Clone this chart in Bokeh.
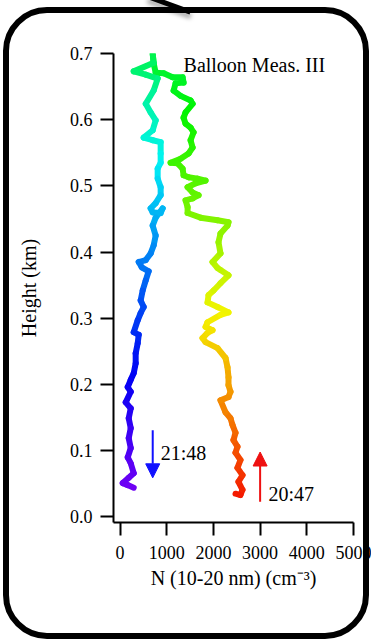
import colorsys

from bokeh.embed import file_html
from bokeh.models import (Arrow, ColumnDataSource, FixedTicker, InlineStyleSheet,
                          Label, NormalHead, PrintfTickFormatter)
from bokeh.plotting import figure
from bokeh.resources import INLINE
from bokeh.transform import linear_cmap

# Balloon ascent (launched 20:47), listed from the ground up: N(10-20 nm) in cm^-3, height in km
ascent_n = [2473, 2579, 2622, 2537, 2622, 2515, 2579, 2473, 2515, 2430, 2473, 2408,
            2366, 2259, 2152, 2323, 2366, 2323, 2323, 2302, 2259, 2088, 1832, 1767,
            1874, 1981, 1832, 1874, 2152, 2323, 2088, 1874, 1896, 2003, 2152, 2323,
            2152, 2088, 1981, 2152, 2109, 2152, 2302, 2323, 2088, 1725, 1447, 1447,
            1404, 1554, 1682, 1554, 1447, 1618, 1832, 1661, 1468, 1361, 1340, 1233,
            1083, 1297, 1468, 1554, 1511, 1575, 1511, 1404, 1361, 1404, 1554, 1511,
            1297, 1148, 1190, 1361, 1340, 1126, 934, 763, 720, 699]
ascent_h = [0.035, 0.033, 0.041, 0.053, 0.063, 0.074, 0.086, 0.097, 0.106, 0.116, 0.127, 0.139,
            0.149, 0.158, 0.176, 0.181, 0.189, 0.199, 0.211, 0.226, 0.240, 0.255, 0.264, 0.270,
            0.278, 0.282, 0.287, 0.294, 0.305, 0.309, 0.317, 0.324, 0.335, 0.342, 0.353, 0.365,
            0.373, 0.376, 0.385, 0.398, 0.415, 0.428, 0.440, 0.445, 0.448, 0.452, 0.459, 0.468,
            0.478, 0.481, 0.486, 0.490, 0.498, 0.504, 0.508, 0.511, 0.513, 0.516, 0.526, 0.534,
            0.535, 0.541, 0.549, 0.558, 0.569, 0.581, 0.588, 0.594, 0.603, 0.611, 0.624, 0.629,
            0.636, 0.644, 0.655, 0.656, 0.664, 0.664, 0.670, 0.671, 0.685, 0.700]

# Descent (ending 21:48), listed from the top down
descent_n = [699, 720, 293, 551, 806, 720, 551, 656, 763, 699, 506, 699, 870, 870, 870,
             806, 806, 870, 870, 763, 656, 699, 870, 913, 763, 699, 763, 720, 656, 551,
             400, 466, 613, 549, 485, 442, 506, 442, 378, 293, 400, 378, 335, 335, 293,
             229, 165, 229, 122, 229, 186, 229, 186, 229, 165, 229, 293, 186, 58, 165, 293]
descent_h = [0.700, 0.686, 0.673, 0.668, 0.662, 0.644, 0.624, 0.611, 0.599, 0.584, 0.573,
             0.569, 0.566, 0.549, 0.535, 0.526, 0.511, 0.498, 0.486, 0.474, 0.466, 0.460,
             0.459, 0.466, 0.452, 0.440, 0.425, 0.410, 0.398, 0.388, 0.385, 0.377, 0.371,
             0.357, 0.342, 0.327, 0.317, 0.308, 0.297, 0.279, 0.275, 0.262, 0.247, 0.232,
             0.217, 0.207, 0.196, 0.189, 0.173, 0.164, 0.149, 0.134, 0.119, 0.104, 0.090,
             0.081, 0.066, 0.059, 0.051, 0.048, 0.044]

x_ticks = [0, 1000, 2000, 3000, 4000, 5000]
y_ticks = [0.0, 0.1, 0.2, 0.3, 0.4, 0.5, 0.6, 0.7]

title_text = "Balloon Meas. III"
launch_time = "20:47"
landing_time = "21:48"

SERIF = "Liberation Serif"

# Flight phase 0..1 (ascent first half, descent second half) drives the rainbow colouring
top = max(ascent_h)
ascent_phase = [0.5 * h / top for h in ascent_h]
descent_phase = [0.5 + 0.5 * ((top - h) / top) ** 0.8 for h in descent_h]


def segments(n, h, phase):
    return dict(x0=n[:-1], x1=n[1:], y0=h[:-1], y1=h[1:],
                phase=[(a + b) / 2 for a, b in zip(phase[:-1], phase[1:])])


asc = segments(ascent_n, ascent_h, ascent_phase)
desc = segments(descent_n, descent_h, descent_phase)
source = ColumnDataSource({k: asc[k] + desc[k] for k in asc})

rainbow = []
for i in range(256):
    r, g, b = colorsys.hsv_to_rgb(0.76 * i / 255, 1.0, 0.96)
    rainbow.append("#%02x%02x%02x" % (int(r * 255), int(g * 255), int(b * 255)))

p = figure(width=371, height=643, x_range=(-140, 5000), y_range=(-0.0085, 0.7),
           output_backend="svg", toolbar_location=None,
           min_border_left=113, min_border_right=18, min_border_top=53, min_border_bottom=121)
p.outline_line_color = None
p.xgrid.visible = False
p.ygrid.visible = False
p.background_fill_color = "white"
p.border_fill_color = "white"

p.segment("x0", "y0", "x1", "y1", source=source, line_width=6, line_cap="round",
          line_color=linear_cmap("phase", rainbow, 0, 1))

for ax in (p.xaxis[0], p.yaxis[0]):
    ax.axis_line_width = 2
    ax.axis_line_color = "black"
    ax.major_tick_line_width = 2
    ax.major_tick_line_color = "black"
    ax.major_tick_in = 0
    ax.major_tick_out = 13
    ax.minor_tick_line_color = None
    ax.major_label_text_font = SERIF
    ax.major_label_text_font_size = "18px"
    ax.major_label_text_color = "black"
    ax.axis_label_text_font = SERIF
    ax.axis_label_text_font_size = "20px"
    ax.axis_label_text_font_style = "normal"
    ax.axis_label_text_color = "black"

p.xaxis.ticker = FixedTicker(ticks=x_ticks)
p.xaxis.major_label_standoff = 10
p.xaxis.axis_label = "N (10-20 nm) (cm\u207b\u00b3)"
p.xaxis.axis_label_standoff = 5

p.yaxis.ticker = FixedTicker(ticks=y_ticks)
p.yaxis.formatter = PrintfTickFormatter(format="%.1f")
p.yaxis.major_label_standoff = 8
p.yaxis.axis_label = "Height (km)"
p.yaxis.axis_label_standoff = 27

p.add_layout(Label(x=1360, y=0.682, text=title_text, text_font=SERIF,
                   text_font_size="20px", text_color="black", text_baseline="alphabetic"))

# Direction-of-travel arrows with the corresponding times
p.add_layout(Arrow(x_start=700, y_start=0.131, x_end=700, y_end=0.059,
                   line_color="#1010ff", line_width=2,
                   end=NormalHead(size=14, fill_color="#1010ff", line_color="#1010ff")))
p.add_layout(Label(x=870, y=0.0965, text=landing_time, text_font=SERIF,
                   text_font_size="20px", text_color="black", text_baseline="alphabetic"))
p.add_layout(Arrow(x_start=3000, y_start=0.023, x_end=3000, y_end=0.098,
                   line_color="#ee1111", line_width=2,
                   end=NormalHead(size=14, fill_color="#ee1111", line_color="#ee1111")))
p.add_layout(Label(x=3178, y=0.035, text=launch_time, text_font=SERIF,
                   text_font_size="20px", text_color="black", text_baseline="alphabetic"))

# Callout frame around the whole panel: rounded border plus a pointer stub with a soft shadow
p.stylesheets = [InlineStyleSheet(css="""
:host { position: relative; overflow: hidden; }
:host::after {
  content: ""; position: absolute; left: 3px; top: 7px;
  width: 366px; height: 632px; box-sizing: border-box;
  border: 6px solid #000; border-radius: 44px;
  pointer-events: none; z-index: 10;
}
:host::before {
  content: ""; position: absolute; left: 148px; top: -6px;
  width: 46px; height: 5px; background: #000;
  transform: rotate(20deg); transform-origin: 0 0;
  box-shadow: 2px 4px 4px rgba(0, 0, 0, 0.35);
  pointer-events: none; z-index: 11;
}
""")]

open("out.html", "w").write(file_html(p, INLINE))
